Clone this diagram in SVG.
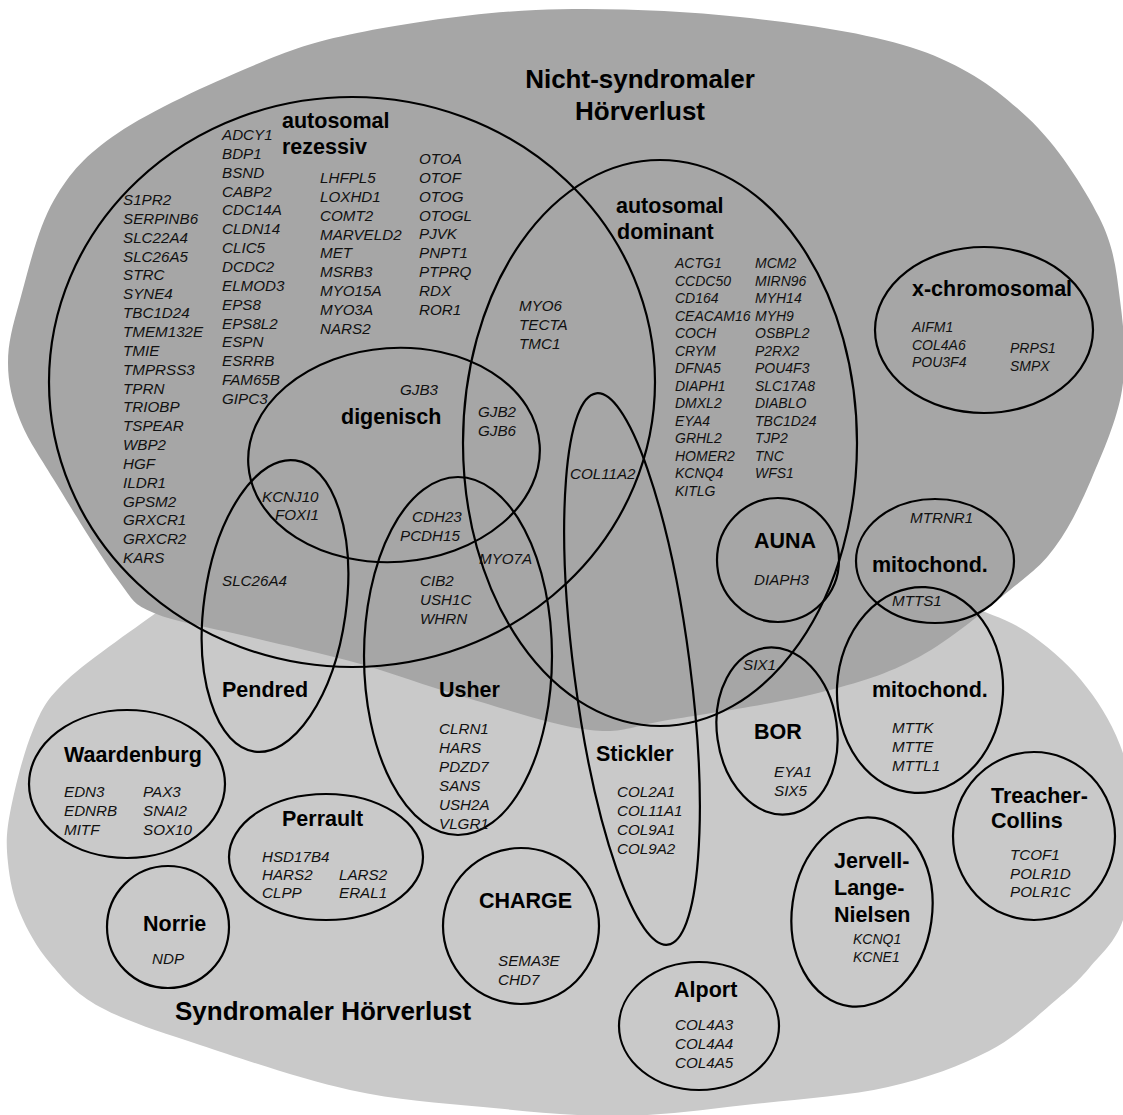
<svg xmlns="http://www.w3.org/2000/svg" width="1123" height="1115" viewBox="0 0 1123 1115">
<style>
.bgd{fill:#a6a6a6}
.bgl{fill:#c9c9c9}
.o{fill:none;stroke:#000;stroke-width:2.2}
.h{font-family:"Liberation Sans",Arial,sans-serif;font-weight:bold;font-size:21.5px;fill:#000}
.T{font-size:26px}
.g{font-family:"Liberation Sans",Arial,sans-serif;font-style:italic;font-size:15.2px;fill:#111}
.s{font-size:14px}
</style>
<rect width="1123" height="1115" fill="#fff"/>
<g id="syndromal-bg">
<path class="bgl" d="M160,610 C144.5,621.7 88.2,660 67,680 C45.8,700 42.5,707.8 33,730 C23.5,752.2 14.2,790.8 10,813 C5.8,835.2 6.3,846.3 8,863 C9.7,879.7 13,896.3 20,913 C27,929.7 36.7,947.3 50,963 C63.3,978.7 75,993.3 100,1007 C125,1020.7 158.3,1031.2 200,1045 C241.7,1058.8 302.8,1079.7 350,1090 C397.2,1100.3 438,1102.7 483,1107 C528,1111.3 574.8,1116.5 620,1116 C665.2,1115.5 709.3,1108.8 754,1104 C798.7,1099.2 848.8,1095.8 888,1087 C927.2,1078.2 961,1065.5 989,1051 C1017,1036.5 1039.2,1014 1056,1000 C1072.8,986 1078.8,980.3 1090,967 C1101.2,953.7 1115,942.8 1123,920 C1131,897.2 1138.5,859.2 1138,830 C1137.5,800.8 1129.5,770 1120,745 C1110.5,720 1096.5,698.8 1081,680 C1065.5,661.2 1044.7,644 1027,632 C1009.3,620 983.7,612 975,608 L950,585 L600,600 L180,590 Z"/>
</g>
<g id="nichtsyndromal-bg">
<path class="bgd" d="M8,363 C8,343 12.3,327.2 20,300 C27.7,272.8 37.7,227.8 54,200 C70.3,172.2 85.3,155.2 118,133 C150.7,110.8 210.2,83.7 250,67 C289.8,50.3 309.3,42.5 357,33 C404.7,23.5 472.2,12.7 536,10 C599.8,7.3 676.2,10.3 740,17 C803.8,23.7 871.2,33.3 919,50 C966.8,66.7 997,89.2 1027,117 C1057,144.8 1083.5,186.5 1099,217 C1114.5,247.5 1116.2,271.2 1120,300 C1123.8,328.8 1126.8,360 1122,390 C1117.2,420 1102.2,453.8 1091,480 C1079.8,506.2 1068.5,528.7 1055,547 C1041.5,565.3 1032.7,571.7 1010,590 C987.3,608.3 951,639.8 919,657 C887,674.2 859.8,682.5 818,693 C776.2,703.5 706,713.8 668,720 C630,726.2 624,733.8 590,730 C556,726.2 502.8,708.2 464,697 C425.2,685.8 392.7,673 357,663 C321.3,653 283.8,645.3 250,637 C216.2,628.7 176,622.5 154,613 C132,603.5 134.7,602.2 118,580 C101.3,557.8 70.3,506.7 54,480 C37.7,453.3 27.7,439.5 20,420 C12.3,400.5 8,383 8,363 Z"/>
</g>
<g id="titles">
<text class="h T" x="640" y="88" text-anchor="middle">Nicht-syndromaler</text>
<text class="h T" x="640" y="120" text-anchor="middle">Hörverlust</text>
<text class="h T" x="175" y="1020">Syndromaler Hörverlust</text>
</g>
<g id="connectors"></g>
<g id="autosomal-rezessiv">
<ellipse class="o" cx="352" cy="382" rx="303" ry="285"/>
<text class="h" x="282" y="128">autosomal</text>
<text class="h" x="282" y="154">rezessiv</text>
<text class="g" x="123" y="205"><tspan x="123">S1PR2</tspan><tspan x="123" dy="18.85">SERPINB6</tspan><tspan x="123" dy="18.85">SLC22A4</tspan><tspan x="123" dy="18.85">SLC26A5</tspan><tspan x="123" dy="18.85">STRC</tspan><tspan x="123" dy="18.85">SYNE4</tspan><tspan x="123" dy="18.85">TBC1D24</tspan><tspan x="123" dy="18.85">TMEM132E</tspan><tspan x="123" dy="18.85">TMIE</tspan><tspan x="123" dy="18.85">TMPRSS3</tspan><tspan x="123" dy="18.85">TPRN</tspan><tspan x="123" dy="18.85">TRIOBP</tspan><tspan x="123" dy="18.85">TSPEAR</tspan><tspan x="123" dy="18.85">WBP2</tspan><tspan x="123" dy="18.85">HGF</tspan><tspan x="123" dy="18.85">ILDR1</tspan><tspan x="123" dy="18.85">GPSM2</tspan><tspan x="123" dy="18.85">GRXCR1</tspan><tspan x="123" dy="18.85">GRXCR2</tspan><tspan x="123" dy="18.85">KARS</tspan></text>
<text class="g" x="222" y="140"><tspan x="222">ADCY1</tspan><tspan x="222" dy="18.85">BDP1</tspan><tspan x="222" dy="18.85">BSND</tspan><tspan x="222" dy="18.85">CABP2</tspan><tspan x="222" dy="18.85">CDC14A</tspan><tspan x="222" dy="18.85">CLDN14</tspan><tspan x="222" dy="18.85">CLIC5</tspan><tspan x="222" dy="18.85">DCDC2</tspan><tspan x="222" dy="18.85">ELMOD3</tspan><tspan x="222" dy="18.85">EPS8</tspan><tspan x="222" dy="18.85">EPS8L2</tspan><tspan x="222" dy="18.85">ESPN</tspan><tspan x="222" dy="18.85">ESRRB</tspan><tspan x="222" dy="18.85">FAM65B</tspan><tspan x="222" dy="18.85">GIPC3</tspan></text>
<text class="g" x="320" y="183"><tspan x="320">LHFPL5</tspan><tspan x="320" dy="18.85">LOXHD1</tspan><tspan x="320" dy="18.85">COMT2</tspan><tspan x="320" dy="18.85">MARVELD2</tspan><tspan x="320" dy="18.85">MET</tspan><tspan x="320" dy="18.85">MSRB3</tspan><tspan x="320" dy="18.85">MYO15A</tspan><tspan x="320" dy="18.85">MYO3A</tspan><tspan x="320" dy="18.85">NARS2</tspan></text>
<text class="g" x="419" y="164"><tspan x="419">OTOA</tspan><tspan x="419" dy="18.85">OTOF</tspan><tspan x="419" dy="18.85">OTOG</tspan><tspan x="419" dy="18.85">OTOGL</tspan><tspan x="419" dy="18.85">PJVK</tspan><tspan x="419" dy="18.85">PNPT1</tspan><tspan x="419" dy="18.85">PTPRQ</tspan><tspan x="419" dy="18.85">RDX</tspan><tspan x="419" dy="18.85">ROR1</tspan></text>
<text class="g" x="519" y="311"><tspan x="519">MYO6</tspan><tspan x="519" dy="19">TECTA</tspan><tspan x="519" dy="19">TMC1</tspan></text>
</g>
<g id="autosomal-dominant">
<ellipse class="o" cx="660" cy="443" rx="197" ry="283"/>
<text class="h" x="616" y="213">autosomal</text>
<text class="h" x="617" y="239">dominant</text>
<text class="g s" x="675" y="268"><tspan x="675">ACTG1</tspan><tspan x="675" dy="17.5">CCDC50</tspan><tspan x="675" dy="17.5">CD164</tspan><tspan x="675" dy="17.5">CEACAM16</tspan><tspan x="675" dy="17.5">COCH</tspan><tspan x="675" dy="17.5">CRYM</tspan><tspan x="675" dy="17.5">DFNA5</tspan><tspan x="675" dy="17.5">DIAPH1</tspan><tspan x="675" dy="17.5">DMXL2</tspan><tspan x="675" dy="17.5">EYA4</tspan><tspan x="675" dy="17.5">GRHL2</tspan><tspan x="675" dy="17.5">HOMER2</tspan><tspan x="675" dy="17.5">KCNQ4</tspan><tspan x="675" dy="17.5">KITLG</tspan></text>
<text class="g s" x="755" y="268"><tspan x="755">MCM2</tspan><tspan x="755" dy="17.5">MIRN96</tspan><tspan x="755" dy="17.5">MYH14</tspan><tspan x="755" dy="17.5">MYH9</tspan><tspan x="755" dy="17.5">OSBPL2</tspan><tspan x="755" dy="17.5">P2RX2</tspan><tspan x="755" dy="17.5">POU4F3</tspan><tspan x="755" dy="17.5">SLC17A8</tspan><tspan x="755" dy="17.5">DIABLO</tspan><tspan x="755" dy="17.5">TBC1D24</tspan><tspan x="755" dy="17.5">TJP2</tspan><tspan x="755" dy="17.5">TNC</tspan><tspan x="755" dy="17.5">WFS1</tspan></text>
</g>
<g id="digenisch">
<ellipse class="o" cx="394" cy="455" rx="146" ry="107" transform="rotate(-4 394 455)"/>
<text class="h" x="341" y="424">digenisch</text>
<text class="g" x="400" y="395">GJB3</text>
<text class="g" x="478" y="417"><tspan x="478">GJB2</tspan><tspan x="478" dy="19">GJB6</tspan></text>
<text class="g" x="262" y="502">KCNJ10</text>
<text class="g" x="275" y="520">FOXI1</text>
<text class="g" x="412" y="522">CDH23</text>
<text class="g" x="400" y="541">PCDH15</text>
</g>
<g id="pendred">
<ellipse class="o" cx="275" cy="606" rx="71" ry="147" transform="rotate(8 275 606)"/>
<text class="g" x="222" y="586">SLC26A4</text>
<text class="h" x="222" y="697">Pendred</text>
</g>
<g id="usher">
<ellipse class="o" cx="458" cy="656" rx="94" ry="179"/>
<text class="g" x="479" y="564">MYO7A</text>
<text class="g" x="420" y="586"><tspan x="420">CIB2</tspan><tspan x="420" dy="19">USH1C</tspan><tspan x="420" dy="19">WHRN</tspan></text>
<text class="h" x="439" y="697">Usher</text>
<text class="g" x="439" y="734"><tspan x="439">CLRN1</tspan><tspan x="439" dy="18.9">HARS</tspan><tspan x="439" dy="18.9">PDZD7</tspan><tspan x="439" dy="18.9">SANS</tspan><tspan x="439" dy="18.9">USH2A</tspan><tspan x="439" dy="18.9">VLGR1</tspan></text>
</g>
<g id="stickler">
<ellipse class="o" cx="632" cy="669" rx="58" ry="278" transform="rotate(-7.4 632 669)"/>
<text class="g" x="570" y="479">COL11A2</text>
<text class="h" x="596" y="761">Stickler</text>
<text class="g" x="617" y="797"><tspan x="617">COL2A1</tspan><tspan x="617" dy="18.9">COL11A1</tspan><tspan x="617" dy="18.9">COL9A1</tspan><tspan x="617" dy="18.9">COL9A2</tspan></text>
</g>
<g id="auna">
<ellipse class="o" cx="778" cy="560" rx="61" ry="62"/>
<text class="h" x="754" y="548">AUNA</text>
<text class="g" x="754" y="585">DIAPH3</text>
</g>
<g id="x-chromosomal">
<ellipse class="o" cx="984" cy="330" rx="109" ry="83"/>
<text class="h" x="912" y="296">x-chromosomal</text>
<text class="g s" x="912" y="332"><tspan x="912">AIFM1</tspan><tspan x="912" dy="17.5">COL4A6</tspan><tspan x="912" dy="17.5">POU3F4</tspan></text>
<text class="g s" x="1010" y="353"><tspan x="1010">PRPS1</tspan><tspan x="1010" dy="17.5">SMPX</tspan></text>
</g>
<g id="mitochond-ns">
<ellipse class="o" cx="935" cy="561" rx="79" ry="62"/>
<text class="g" x="910" y="523">MTRNR1</text>
<text class="h" x="872" y="572">mitochond.</text>
<text class="g" x="892" y="606">MTTS1</text>
</g>
<g id="mitochond-s">
<ellipse class="o" cx="920" cy="690" rx="83" ry="103" transform="rotate(3 920 690)"/>
<text class="h" x="872" y="697">mitochond.</text>
<text class="g" x="892" y="733"><tspan x="892">MTTK</tspan><tspan x="892" dy="19">MTTE</tspan><tspan x="892" dy="19">MTTL1</tspan></text>
</g>
<g id="bor">
<ellipse class="o" cx="777" cy="731" rx="60" ry="84" transform="rotate(-8 777 731)"/>
<text class="g" x="743" y="670">SIX1</text>
<text class="h" x="754" y="739">BOR</text>
<text class="g" x="774" y="777"><tspan x="774">EYA1</tspan><tspan x="774" dy="19">SIX5</tspan></text>
</g>
<g id="waardenburg">
<ellipse class="o" cx="127" cy="784" rx="98" ry="74"/>
<text class="h" x="64" y="762">Waardenburg</text>
<text class="g" x="64" y="797"><tspan x="64">EDN3</tspan><tspan x="64" dy="19">EDNRB</tspan><tspan x="64" dy="19">MITF</tspan></text>
<text class="g" x="143" y="797"><tspan x="143">PAX3</tspan><tspan x="143" dy="19">SNAI2</tspan><tspan x="143" dy="19">SOX10</tspan></text>
</g>
<g id="perrault">
<ellipse class="o" cx="326" cy="857" rx="97" ry="63"/>
<text class="h" x="282" y="826">Perrault</text>
<text class="g" x="262" y="862"><tspan x="262">HSD17B4</tspan><tspan x="262" dy="18">HARS2</tspan><tspan x="262" dy="18">CLPP</tspan></text>
<text class="g" x="339" y="880"><tspan x="339">LARS2</tspan><tspan x="339" dy="18">ERAL1</tspan></text>
</g>
<g id="norrie">
<ellipse class="o" cx="168" cy="927" rx="61" ry="61"/>
<text class="h" x="143" y="931">Norrie</text>
<text class="g" x="152" y="964">NDP</text>
</g>
<g id="charge">
<ellipse class="o" cx="521" cy="926" rx="78" ry="78"/>
<text class="h" x="479" y="908">CHARGE</text>
<text class="g" x="498" y="966"><tspan x="498">SEMA3E</tspan><tspan x="498" dy="19">CHD7</tspan></text>
</g>
<g id="alport">
<ellipse class="o" cx="699" cy="1026" rx="80" ry="64"/>
<text class="h" x="674" y="997">Alport</text>
<text class="g" x="675" y="1030"><tspan x="675">COL4A3</tspan><tspan x="675" dy="19">COL4A4</tspan><tspan x="675" dy="19">COL4A5</tspan></text>
</g>
<g id="jervell-lange-nielsen">
<ellipse class="o" cx="862" cy="912" rx="70" ry="95" transform="rotate(8 862 912)"/>
<text class="h" x="834" y="868">Jervell-</text>
<text class="h" x="834" y="895">Lange-</text>
<text class="h" x="834" y="922">Nielsen</text>
<text class="g s" x="853" y="944"><tspan x="853">KCNQ1</tspan><tspan x="853" dy="17.5">KCNE1</tspan></text>
</g>
<g id="treacher-collins">
<ellipse class="o" cx="1034" cy="836" rx="81" ry="84"/>
<text class="h" x="991" y="803">Treacher-</text>
<text class="h" x="991" y="828">Collins</text>
<text class="g" x="1010" y="860"><tspan x="1010">TCOF1</tspan><tspan x="1010" dy="18.5">POLR1D</tspan><tspan x="1010" dy="18.5">POLR1C</tspan></text>
</g>
</svg>
